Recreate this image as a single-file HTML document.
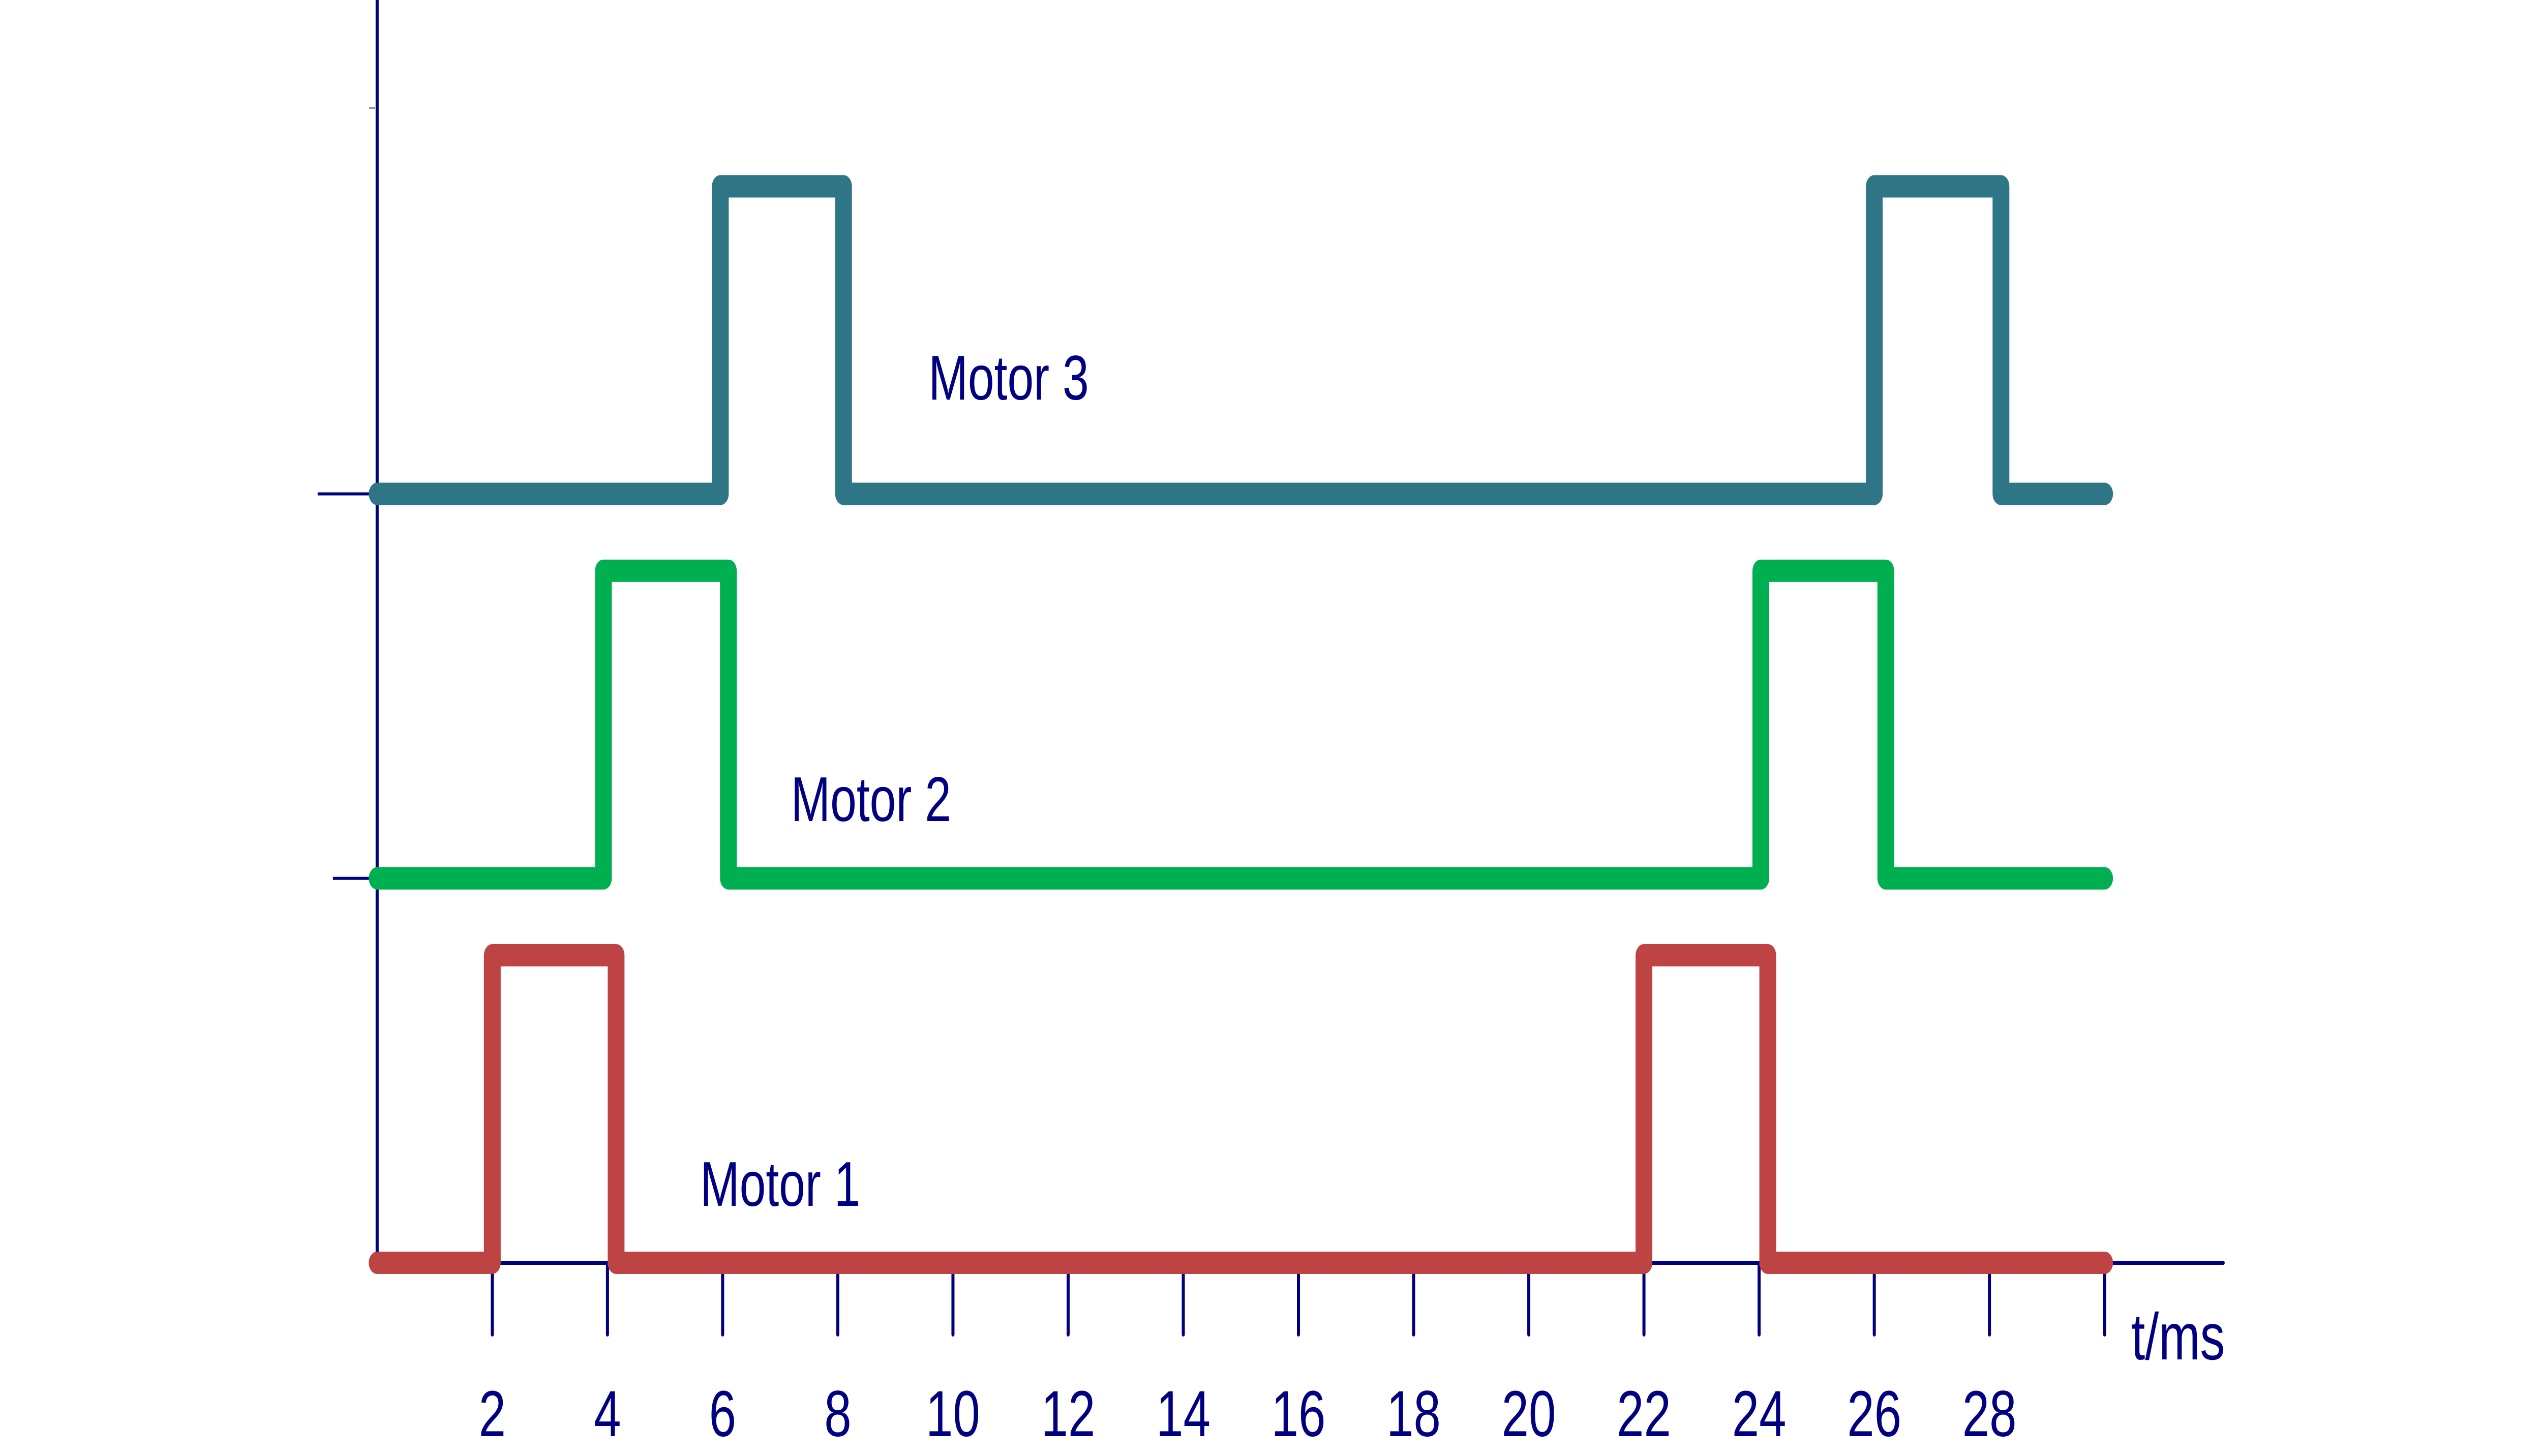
<!DOCTYPE html>
<html><head><meta charset="utf-8">
<style>
html,body{margin:0;padding:0;background:#fff;overflow:hidden;width:100%;height:100%;}
svg{display:block;position:fixed;left:0;top:0;width:100vw;height:100vh;}
text{font-family:"Liberation Sans",Arial,sans-serif;fill:#000080;}
</style></head>
<body>
<svg id="chart" viewBox="0 0 6666 2864" preserveAspectRatio="none" xmlns="http://www.w3.org/2000/svg">
<g id="axes"></g>
<g id="series"></g>
<g id="labels"></g>
</svg>
<script>
const tickValues = [2,4,6,8,10,12,14,16,18,20,22,24,26,28,30];
const tickLabels = ["2","4","6","8","10","12","14","16","18","20","22","24","26","28",""];
const motorNames = ["Motor 1","Motor 2","Motor 3"];
const motor1Times = [0,2.0,4.15,22.0,24.15,30];
const motor1States = [0,1,0,1,0,0];
const motor2Times = [0,3.93,6.1,24.03,26.2,30];
const motor2States = [0,1,0,1,0,0];
const motor3Times = [0,5.96,8.1,26.0,28.2,30];
const motor3States = [0,1,0,1,0,0];
const motorOffsets = [0,1.25,2.5];

const NS="http://www.w3.org/2000/svg";
function xS(t){return 989+151*t;}
function yS(v){return 2484-605*v;}
function mk(tag,attrs,parent){const e=document.createElementNS(NS,tag);for(const k in attrs)e.setAttribute(k,attrs[k]);parent.appendChild(e);return e;}
const axes=document.getElementById('axes'),series=document.getElementById('series'),labels=document.getElementById('labels');
const navy="#000080";
let e;
e=mk('line',{x1:xS(0),y1:0,x2:xS(0),y2:yS(0),stroke:navy,'stroke-width':8},axes);


e=mk('line',{x1:xS(0),y1:yS(0),x2:5830,y2:yS(0),stroke:navy,'stroke-width':8,'stroke-linecap':'round'},axes);


e=mk('line',{x1:833,y1:yS(motorOffsets[2]),x2:xS(0),y2:yS(motorOffsets[2]),stroke:navy,'stroke-width':6},axes);


e=mk('line',{x1:873,y1:yS(motorOffsets[1]),x2:xS(0),y2:yS(motorOffsets[1]),stroke:navy,'stroke-width':6},axes);


e=mk('line',{x1:968,y1:212,x2:984,y2:212,stroke:'#9090c0','stroke-width':4},axes);


tickValues.forEach((v,i)=>{
  const t=mk('line',{x1:xS(v),y1:yS(0),x2:xS(v),y2:2625,stroke:navy,'stroke-width':8,'stroke-linecap':'round'},axes);
  
  
  if(tickLabels[i]){
    const l=mk('text',{x:xS(v),y:2825,'font-size':128,'text-anchor':'middle'},labels);
    l.textContent=tickLabels[i];
    
    
  }
});
e=mk('text',{x:5589,y:2674,'font-size':130},labels);
e.textContent='t/ms';



const allTimes=[motor1Times,motor2Times,motor3Times];
const allStates=[motor1States,motor2States,motor3States];
const colors=["#BE4343","#00B050","#2E7586"];
for(let m=0;m<3;m++){
  const T=allTimes[m],S=allStates[m],off=motorOffsets[m];
  let d='M'+xS(T[0])+' '+yS(off+S[0]);
  for(let i=1;i<T.length;i++){
    d+=' L'+xS(T[i])+' '+yS(off+S[i-1]);
    if(i<T.length-1) d+=' L'+xS(T[i])+' '+yS(off+S[i]);
  }
  const p=mk('path',{d:d,fill:'none',stroke:colors[m],'stroke-width':44,'stroke-linecap':'round','stroke-linejoin':'round'},series);
  
  
}
const labelPos=[[1836,2372],[2074,1615],[2435,786]];
for(let m=0;m<3;m++){
  const l=mk('text',{x:labelPos[m][0],y:labelPos[m][1],'font-size':124},labels);
  l.textContent=motorNames[m];
  
  
}
</script>
</body></html>
